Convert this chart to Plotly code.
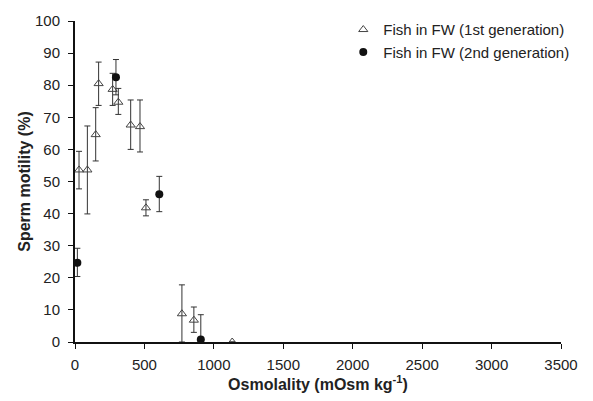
import plotly.graph_objects as go

# 1st generation (open triangles)
osm_1st = [29, 89, 149, 170, 271, 312, 401, 468, 511, 770, 856, 1132]
mot_1st = [53.6, 53.6, 64.6, 80.5, 78.7, 74.7, 67.6, 67.1, 41.8, 8.8, 6.8, 0.0]
err_up_1st = [5.8, 13.7, 8.4, 6.7, 5.0, 4.3, 7.8, 8.3, 2.5, 9.0, 4.1, 0.0]
err_dn_1st = [5.9, 13.7, 8.2, 6.8, 5.0, 3.8, 7.6, 7.9, 2.5, 8.8, 3.8, 0.0]

# 2nd generation (filled circles)
osm_2nd = [17, 295, 607, 906]
mot_2nd = [24.7, 82.5, 46.0, 0.8]
err_up_2nd = [4.5, 5.5, 5.6, 7.7]
err_dn_2nd = [4.3, 5.5, 5.4, 0.8]

x_ticks = [0, 500, 1000, 1500, 2000, 2500, 3000, 3500]
y_ticks = [0, 10, 20, 30, 40, 50, 60, 70, 80, 90, 100]

font = "Liberation Sans, Arial, sans-serif"

fig = go.Figure()
fig.add_trace(go.Scatter(
    x=osm_1st, y=mot_1st, mode="markers",
    name="Fish in FW (1st generation)",
    marker=dict(symbol="triangle-up-open", size=8, color="#444444",
                line=dict(width=1, color="#444444")),
    error_y=dict(type="data", symmetric=False, array=err_up_1st,
                 arrayminus=err_dn_1st, color="#333333", thickness=1, width=3),
))
fig.add_trace(go.Scatter(
    x=osm_2nd, y=mot_2nd, mode="markers",
    name="Fish in FW (2nd generation)",
    marker=dict(symbol="circle", size=8, color="#111111"),
    error_y=dict(type="data", symmetric=False, array=err_up_2nd,
                 arrayminus=err_dn_2nd, color="#333333", thickness=1, width=3),
))

fig.update_layout(
    width=593, height=401,
    margin=dict(l=75, r=32, t=12, b=56),
    paper_bgcolor="white", plot_bgcolor="white",
    font=dict(family=font, size=15, color="#222222"),
    showlegend=True,
    legend=dict(x=0.552, y=1.024, xanchor="left", yanchor="top",
                font=dict(family=font, size=15, color="#222222"),
                bgcolor="rgba(0,0,0,0)", itemwidth=30, tracegroupgap=0),
    xaxis=dict(
        range=[0, 3500], tickvals=x_ticks, ticks="outside", ticklen=5,
        tickwidth=1, tickcolor="#111111", showline=True, linewidth=2,
        linecolor="#111111", showgrid=False, zeroline=False,
        ticklabelstandoff=3,
        title=dict(text="<b>Osmolality (mOsm kg<sup>-1</sup>)</b>",
                   font=dict(family=font, size=16), standoff=5),
        tickfont=dict(family=font, size=15),
    ),
    yaxis=dict(
        range=[0, 100], tickvals=y_ticks, ticks="outside", ticklen=5,
        tickwidth=1, tickcolor="#111111", showline=True, linewidth=2,
        linecolor="#111111", showgrid=False, zeroline=False,
        ticklabelstandoff=5,
        title=dict(text="<b>Sperm motility (%)</b>",
                   font=dict(family=font, size=16), standoff=0),
        tickfont=dict(family=font, size=15),
    ),
)

fig.write_html("out.html")
